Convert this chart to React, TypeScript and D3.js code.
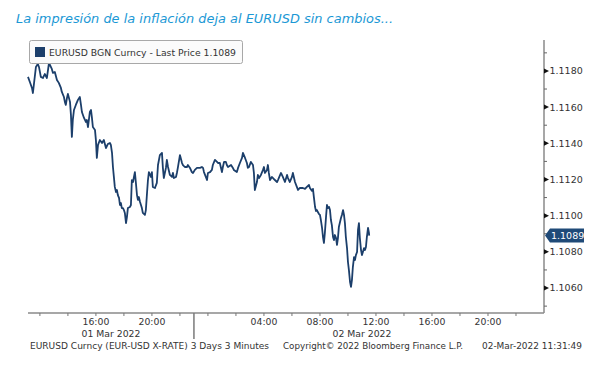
import React from 'react';
import * as d3 from 'd3';

// EURUSD 3-minute prices, 01-02 Mar 2022 (UTC-ish Bloomberg time)
const times = [
  "03-01 11:09", "03-01 11:17", "03-01 11:26", "03-01 11:30", "03-01 11:39", "03-01 11:43", "03-01 11:51", "03-01 11:56",
  "03-01 12:04", "03-01 12:13", "03-01 12:21", "03-01 12:30", "03-01 12:39", "03-01 12:43", "03-01 12:51", "03-01 12:56",
  "03-01 13:04", "03-01 13:13", "03-01 13:21", "03-01 13:30", "03-01 13:34", "03-01 13:43", "03-01 13:47", "03-01 13:51",
  "03-01 13:56", "03-01 14:00", "03-01 14:09", "03-01 14:13", "03-01 14:17", "03-01 14:21", "03-01 14:26", "03-01 14:34",
  "03-01 14:43", "03-01 14:51", "03-01 14:56", "03-01 15:00", "03-01 15:09", "03-01 15:17", "03-01 15:21", "03-01 15:26",
  "03-01 15:34", "03-01 15:39", "03-01 15:43", "03-01 15:47", "03-01 15:56", "03-01 16:00", "03-01 16:04", "03-01 16:09",
  "03-01 16:17", "03-01 16:26", "03-01 16:34", "03-01 16:43", "03-01 16:51", "03-01 17:00", "03-01 17:04", "03-01 17:09",
  "03-01 17:13", "03-01 17:17", "03-01 17:21", "03-01 17:26", "03-01 17:30", "03-01 17:34", "03-01 17:39", "03-01 17:43",
  "03-01 17:47", "03-01 17:51", "03-01 17:56", "03-01 18:00", "03-01 18:04", "03-01 18:09", "03-01 18:13", "03-01 18:17",
  "03-01 18:26", "03-01 18:30", "03-01 18:34", "03-01 18:39", "03-01 18:43", "03-01 18:47", "03-01 18:51", "03-01 18:56",
  "03-01 19:00", "03-01 19:04", "03-01 19:09", "03-01 19:17", "03-01 19:21", "03-01 19:30", "03-01 19:34", "03-01 19:39",
  "03-01 19:43", "03-01 19:47", "03-01 19:51", "03-01 19:56", "03-01 20:00", "03-01 20:04", "03-01 20:13", "03-01 20:21",
  "03-01 20:26", "03-01 20:34", "03-01 20:43", "03-01 20:47", "03-01 20:51", "03-01 21:00", "03-01 21:04", "03-01 21:09",
  "03-01 21:17", "03-01 21:26", "03-01 21:30", "03-01 21:34", "03-01 21:43", "03-01 21:47", "03-01 21:51", "03-01 22:00",
  "03-01 22:09", "03-01 22:13", "03-01 22:21", "03-01 22:30", "03-01 22:34", "03-01 22:43", "03-01 22:51", "03-01 22:56",
  "03-01 23:04", "03-01 23:13", "03-01 23:26", "03-01 23:34", "03-01 23:39", "03-01 23:43", "03-01 23:56", "03-02 00:00",
  "03-02 00:09", "03-02 00:17", "03-02 00:21", "03-02 00:30", "03-02 00:39", "03-02 00:43", "03-02 00:51", "03-02 01:00",
  "03-02 01:04", "03-02 01:09", "03-02 01:17", "03-02 01:21", "03-02 01:26", "03-02 01:39", "03-02 01:47", "03-02 01:51",
  "03-02 02:04", "03-02 02:09", "03-02 02:17", "03-02 02:26", "03-02 02:30", "03-02 02:39", "03-02 02:47", "03-02 02:51",
  "03-02 02:56", "03-02 03:04", "03-02 03:13", "03-02 03:17", "03-02 03:21", "03-02 03:30", "03-02 03:34", "03-02 03:39",
  "03-02 03:47", "03-02 03:56", "03-02 04:00", "03-02 04:04", "03-02 04:13", "03-02 04:17", "03-02 04:21", "03-02 04:26",
  "03-02 04:34", "03-02 04:39", "03-02 04:47", "03-02 04:56", "03-02 05:00", "03-02 05:13", "03-02 05:21", "03-02 05:30",
  "03-02 05:39", "03-02 05:43", "03-02 05:51", "03-02 06:00", "03-02 06:04", "03-02 06:13", "03-02 06:21", "03-02 06:26",
  "03-02 06:34", "03-02 06:47", "03-02 06:56", "03-02 07:04", "03-02 07:13", "03-02 07:17", "03-02 07:26", "03-02 07:30",
  "03-02 07:34", "03-02 07:39", "03-02 07:43", "03-02 07:47", "03-02 07:51", "03-02 07:56", "03-02 08:00", "03-02 08:04",
  "03-02 08:09", "03-02 08:13", "03-02 08:17", "03-02 08:21", "03-02 08:26", "03-02 08:30", "03-02 08:34", "03-02 08:39",
  "03-02 08:43", "03-02 08:47", "03-02 08:51", "03-02 08:56", "03-02 09:00", "03-02 09:04", "03-02 09:09", "03-02 09:13",
  "03-02 09:17", "03-02 09:21", "03-02 09:26", "03-02 09:30", "03-02 09:34", "03-02 09:39", "03-02 09:43", "03-02 09:47",
  "03-02 09:51", "03-02 09:56", "03-02 10:00", "03-02 10:04", "03-02 10:09", "03-02 10:13", "03-02 10:17", "03-02 10:21",
  "03-02 10:26", "03-02 10:30", "03-02 10:34", "03-02 10:39", "03-02 10:43", "03-02 10:47", "03-02 10:51", "03-02 10:56",
  "03-02 11:00", "03-02 11:04", "03-02 11:09", "03-02 11:13", "03-02 11:17", "03-02 11:21", "03-02 11:26", "03-02 11:30",
  "03-02 11:31",
];

const prices = [
  1.11767, 1.11739, 1.11706, 1.11678, 1.11778, 1.11822, 1.11839, 1.11822,
  1.11767, 1.11761, 1.11783, 1.11761, 1.11844, 1.11833, 1.11811, 1.11789,
  1.11794, 1.11750, 1.11734, 1.11706, 1.11684, 1.11656, 1.11629, 1.11612,
  1.11651, 1.11673, 1.11629, 1.11557, 1.11435, 1.11529, 1.11584, 1.11612,
  1.11640, 1.11656, 1.11612, 1.11573, 1.11540, 1.11518, 1.11529, 1.11490,
  1.11573, 1.11584, 1.11540, 1.11490, 1.11474, 1.11418, 1.11319, 1.11391,
  1.11418, 1.11402, 1.11418, 1.11374, 1.11396, 1.11402, 1.11391, 1.11347,
  1.11269, 1.11214, 1.11159, 1.11131, 1.11142, 1.11114, 1.11098, 1.11059,
  1.11070, 1.11042, 1.11042, 1.11031, 1.11015, 1.10959, 1.10993, 1.11042,
  1.11048, 1.11059, 1.11197, 1.11186, 1.11214, 1.11241, 1.11186, 1.11114,
  1.11087, 1.11103, 1.11076, 1.11042, 1.11015, 1.11004, 1.11031, 1.11125,
  1.11197, 1.11241, 1.11230, 1.11214, 1.11241, 1.11159, 1.11153, 1.11181,
  1.11280, 1.11335, 1.11347, 1.11264, 1.11208, 1.11264, 1.11308, 1.11269,
  1.11225, 1.11214, 1.11236, 1.11208, 1.11214, 1.11236, 1.11264, 1.11335,
  1.11291, 1.11280, 1.11269, 1.11269, 1.11280, 1.11264, 1.11241, 1.11236,
  1.11253, 1.11264, 1.11264, 1.11269, 1.11264, 1.11241, 1.11197, 1.11236,
  1.11241, 1.11253, 1.11280, 1.11308, 1.11297, 1.11291, 1.11291, 1.11241,
  1.11269, 1.11297, 1.11297, 1.11280, 1.11269, 1.11280, 1.11264, 1.11253,
  1.11241, 1.11264, 1.11291, 1.11319, 1.11347, 1.11319, 1.11291, 1.11264,
  1.11269, 1.11297, 1.11280, 1.11236, 1.11142, 1.11186, 1.11225, 1.11208,
  1.11225, 1.11253, 1.11269, 1.11236, 1.11253, 1.11280, 1.11236, 1.11197,
  1.11214, 1.11208, 1.11197, 1.11186, 1.11197, 1.11236, 1.11214, 1.11186,
  1.11225, 1.11208, 1.11186, 1.11214, 1.11236, 1.11186, 1.11159, 1.11142,
  1.11153, 1.11153, 1.11148, 1.11159, 1.11170, 1.11153, 1.11137, 1.11148,
  1.11103, 1.11048, 1.11026, 1.11031, 1.11020, 1.11009, 1.11004, 1.10976,
  1.10932, 1.10882, 1.10849, 1.10904, 1.10993, 1.11059, 1.11042, 1.11048,
  1.11031, 1.10976, 1.10948, 1.10882, 1.10865, 1.10893, 1.10876, 1.10838,
  1.10876, 1.10937, 1.10965, 1.10987, 1.11004, 1.11031, 1.11004, 1.10959,
  1.10882, 1.10821, 1.10744, 1.10700, 1.10633, 1.10606, 1.10644, 1.10716,
  1.10771, 1.10755, 1.10782, 1.10799, 1.10921, 1.10959, 1.10876, 1.10810,
  1.10782, 1.10799, 1.10821, 1.10810, 1.10827, 1.10882, 1.10932, 1.10904,
  1.10890,
];

const priceTicks = [1.106, 1.108, 1.11, 1.112, 1.114, 1.116, 1.118];
const minorPriceTicks = [1.105, 1.107, 1.109, 1.111, 1.113, 1.115, 1.117, 1.119];
const hourLabels = ["03-01 16:00", "03-01 20:00", "03-02 04:00", "03-02 08:00", "03-02 12:00", "03-02 16:00", "03-02 20:00"];
const dayLabels = ["01 Mar 2022", "02 Mar 2022"];
const sessionBreaks = ["03-01 11:09", "03-01 23:00", "03-02 23:00"];

const title = "La impresión de la inflación deja al EURUSD sin cambios...";
const legendText = "EURUSD BGN Curncy - Last Price 1.1089";
const footer = [
  "EURUSD Curncy (EUR-USD X-RATE) 3 Days 3 Minutes",
  "Copyright© 2022 Bloomberg Finance L.P.",
  "02-Mar-2022 11:31:49",
];

const parse = d3.utcParse("%Y-%m-%d %H:%M");
const toDate = (s: string) => parse("2022-" + s) as Date;

const W = 594;
const H = 371;
const LINE = "#1c3f6b";
const FONT = "DejaVu Sans, Verdana, sans-serif";

export default function App() {
  const data = times.map((t, i) => ({ t: toDate(t), v: prices[i] }));

  const x = d3.scaleUtc()
    .domain([toDate("03-01 11:09"), toDate("03-03 00:00")])
    .range([28, 544]);
  const y = d3.scaleLinear()
    .domain([1.10462, 1.11971])
    .range([313, 40]);

  const line = d3.line<{ t: Date; v: number }>()
    .x(d => x(d.t))
    .y(d => y(d.v));

  const hourTicks = d3.utcHour.every(2)!.range(toDate("03-01 12:00"), toDate("03-03 00:00"));
  const breaks = sessionBreaks.map(toDate);
  const last = data[data.length - 1];
  const ly = y(last.v);
  const fmt = d3.format(".4f");

  return (
    <svg width={W} height={H} style={{ position: 'absolute', left: 0, top: 0, background: '#fff' }} fontFamily={FONT}>
      <text x={16} y={23} fill="#1b98d5" fontSize={13} fontStyle="italic" textLength={377} lengthAdjust="spacingAndGlyphs">{title}</text>

      {/* price line */}
      <path d={line(data) || ''} fill="none" stroke={LINE} strokeWidth={1.8} strokeLinejoin="round" />

      {/* legend */}
      <rect x={29.5} y={40.5} width={213} height={23} rx={2} fill="#fbfbfb" stroke="#a8a8a8" />
      <rect x={35} y={47} width={10} height={10} fill={LINE} />
      <text x={49} y={56} fontSize={9.5} fill="#333" textLength={187} lengthAdjust="spacingAndGlyphs">{legendText}</text>

      {/* bottom axis */}
      <line x1={28} x2={544} y1={313} y2={313} stroke="#8a8a8a" strokeWidth={1.5} />
      {hourTicks.map((t, i) => (
        <line key={i} x1={x(t)} x2={x(t)} y1={313} y2={316} stroke="#777" strokeWidth={1} />
      ))}
      {hourLabels.map((s, i) => (
        <text key={i} x={x(toDate(s))} y={324.5} fontSize={9.3} fill="#333" textAnchor="middle">{d3.utcFormat("%H:%M")(toDate(s))}</text>
      ))}
      <line x1={x(breaks[1])} x2={x(breaks[1])} y1={313} y2={339} stroke="#7a7a7a" strokeWidth={1.5} />
      {dayLabels.map((s, i) => (
        <text key={i} x={(x(breaks[i]) + x(breaks[i + 1])) / 2} y={336.5} fontSize={9.3} fill="#333" textAnchor="middle">{s}</text>
      ))}

      {/* right axis */}
      <line x1={544} x2={544} y1={40} y2={313} stroke="#8a8a8a" strokeWidth={1.5} />
      {minorPriceTicks.map((v, i) => (
        <line key={i} x1={544} x2={547} y1={y(v)} y2={y(v)} stroke="#666" strokeWidth={1} />
      ))}
      {priceTicks.map((v, i) => (
        <g key={i} transform={`translate(544,${y(v)})`}>
          <path d="M0,-2.5L5,0L0,2.5Z" fill="#111" />
          <text x={5.5} y={3.4} fontSize={9.5} fill="#333">{fmt(v)}</text>
        </g>
      ))}
      <g transform={`translate(544,${ly})`}>
        <path d="M1,0L6,-7L40,-7L40,7L6,7Z" fill="#1f4a78" />
        <text x={7} y={3.4} fontSize={9.5} fill="#fff">{fmt(last.v)}</text>
      </g>

      {/* footer */}
      <text x={30} y={348.5} fontSize={9} fill="#333" textLength={239} lengthAdjust="spacingAndGlyphs">{footer[0]}</text>
      <text x={283} y={348.5} fontSize={9} fill="#333" textLength={180} lengthAdjust="spacingAndGlyphs">{footer[1]}</text>
      <text x={482} y={348.5} fontSize={9} fill="#333" textLength={100} lengthAdjust="spacingAndGlyphs">{footer[2]}</text>
    </svg>
  );
}
